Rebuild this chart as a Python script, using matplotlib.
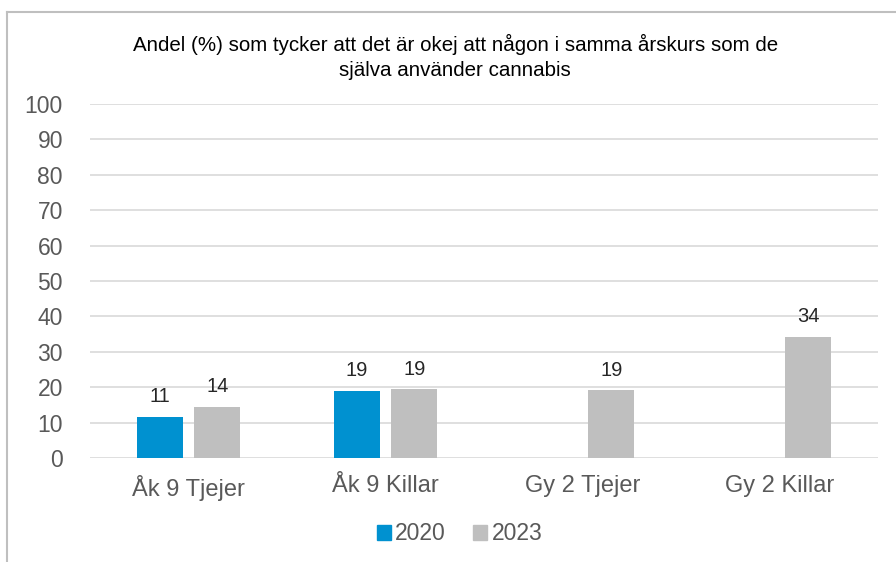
import numpy as np
import matplotlib.pyplot as plt
from matplotlib.lines import Line2D
from matplotlib.patches import Patch

plt.rcParams['font.family'] = ['Liberation Sans', 'DejaVu Sans']

kategorier = ['Åk 9 Tjejer', 'Åk 9 Killar', 'Gy 2 Tjejer', 'Gy 2 Killar']
ar_2020 = [11.6, 18.9, np.nan, np.nan]
ar_2023 = [14.4, 19.4, 19.1, 34.2]
etiketter_2020 = ['11', '19', '', '']
etiketter_2023 = ['14', '19', '19', '34']
titel = 'Andel (%) som tycker att det är okej att någon i samma årskurs som de\nsjälva använder cannabis'

blå = '#0091d0'
grå = '#bfbfbf'

fig = plt.figure(figsize=(8.96, 5.62), dpi=100)
ax = fig.add_axes([0.1004, 0.185, 0.8796, 0.63])

x = np.arange(len(kategorier))
b = 0.234
off = 0.146
ax.bar(x - off, ar_2020, b, color=blå)
ax.bar(x + off, ar_2023, b, color=grå)

for xi, v, t in zip(x - off, ar_2020, etiketter_2020):
    if t:
        ax.text(xi, v + 3.0, t, ha='center', va='bottom', fontsize=14.5, color='#262626')
for xi, v, t in zip(x + off, ar_2023, etiketter_2023):
    ax.text(xi, v + 3.0, t, ha='center', va='bottom', fontsize=14.5, color='#262626')

ax.set_xlim(-0.5, 3.5)
ax.set_ylim(0, 100)
ax.set_yticks(range(0, 101, 10))
ax.set_xticks(x)
ax.set_xticklabels(kategorier)
ax.tick_params(axis='y', left=False, colors='#595959', labelsize=16.5, pad=16)
ax.tick_params(axis='x', bottom=False, colors='#595959', labelsize=17, pad=9)
ax.grid(axis='y', color='#d9d9d9', linewidth=1.2)
ax.set_axisbelow(True)
for sp in ax.spines.values():
    sp.set_visible(False)

fig.text(0.508, 0.8995, titel, ha='center', va='center', fontsize=14.8, color='#000000', linespacing=1.4)

fig.legend([Patch(color=blå), Patch(color=grå)], ['2020', '2023'], loc='center',
           bbox_to_anchor=(0.513, 0.05), ncol=2, frameon=False, fontsize=16.5,
           handlelength=0.6, handleheight=0.6, handletextpad=0.2, columnspacing=1.2,
           labelcolor='#595959')

# ram runt diagrammet
fig.add_artist(Line2D([0.008, 0.008], [0, 0.979], color='#bfbfbf', lw=1.5))
fig.add_artist(Line2D([0.008, 1.0], [0.979, 0.979], color='#bfbfbf', lw=1.5))

fig.savefig('out.png', dpi=100)
